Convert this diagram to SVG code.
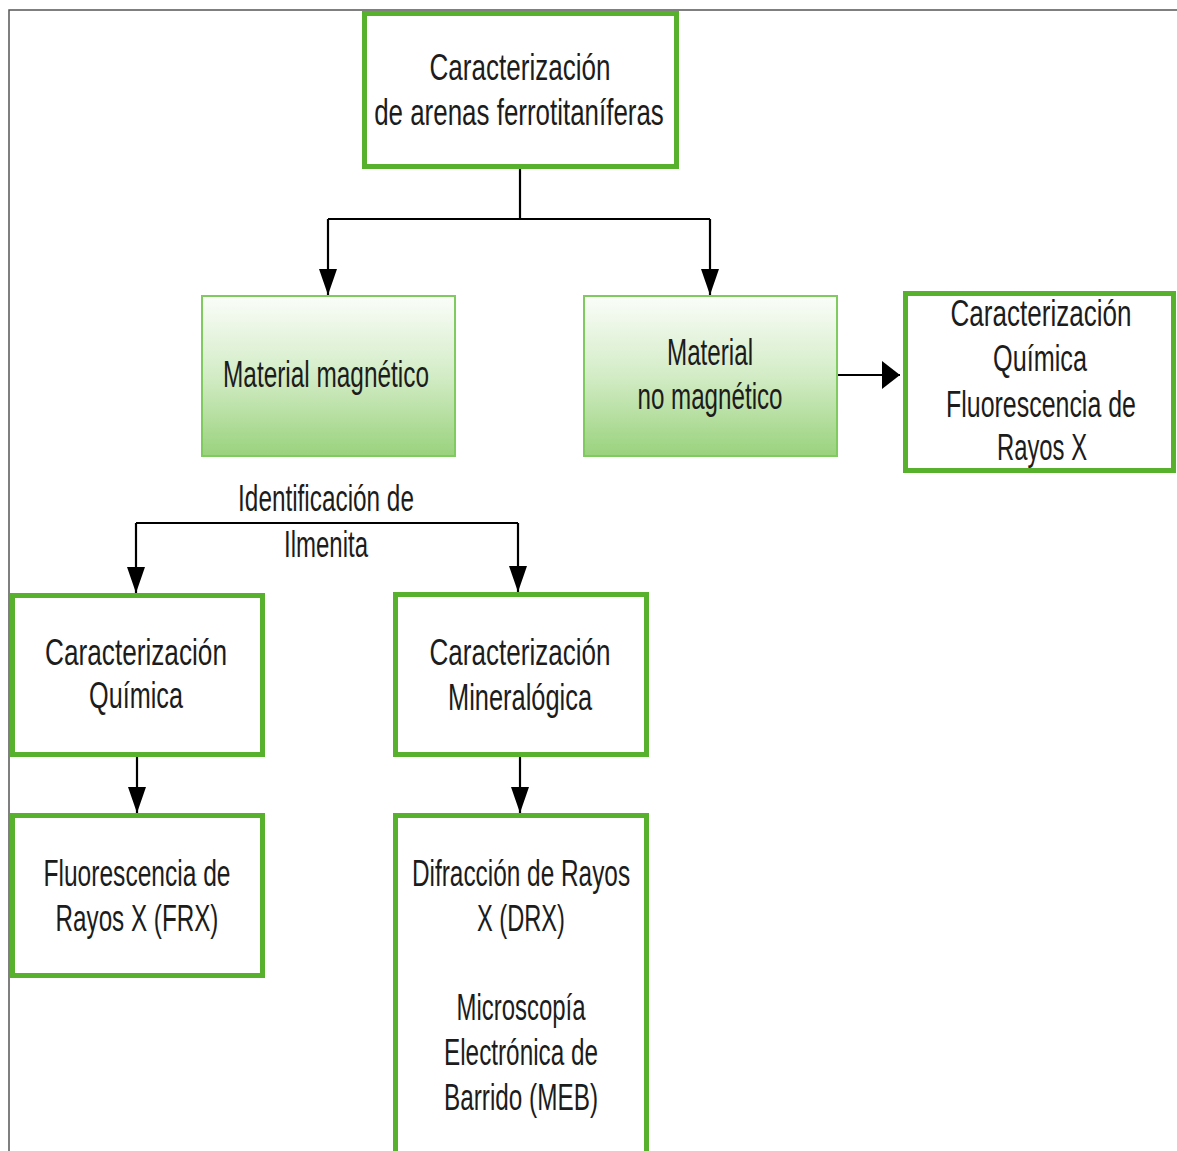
<svg xmlns="http://www.w3.org/2000/svg" width="1177" height="1151" viewBox="0 0 1177 1151">
  <style>
    .frame { fill: none; stroke: #555; stroke-width: 1.5; }
    .box { fill: #fff; stroke: #58b12c; stroke-width: 5; }
    .soft { fill: url(#greenFade); stroke: #7fcb5f; stroke-width: 2; }
    .lbl { font-family: "Liberation Sans", Arial, sans-serif; font-size: 37px; fill: #1c1c1c; text-anchor: middle; }
    .wire { fill: none; stroke: #000; stroke-width: 2.2; }
  </style>
  <defs>
    <linearGradient id="greenFade" x1="0" y1="0" x2="0" y2="1">
      <stop offset="0" stop-color="#fbfdf9"/>
      <stop offset="0.5" stop-color="#d3ecc6"/>
      <stop offset="1" stop-color="#99d27c"/>
    </linearGradient>
    <marker id="head" viewBox="0 0 26 18" refX="26" refY="9" markerWidth="26" markerHeight="18" markerUnits="userSpaceOnUse" orient="auto">
      <path d="M0,0 L26,9 L0,18 Z" fill="#000"/>
    </marker>
    <marker id="headWide" viewBox="0 0 18 28" refX="18" refY="14" markerWidth="18" markerHeight="28" markerUnits="userSpaceOnUse" orient="auto">
      <path d="M0,0 L18,14 L0,28 Z" fill="#000"/>
    </marker>
  </defs>

  <rect width="1177" height="1151" fill="#fff"/>
  <path class="frame" d="M9,1151 V10 H1177"/>

  <g id="connectors">
    <path class="wire" d="M520,169 V219"/>
    <path class="wire" d="M328,219 H710"/>
    <path class="wire" d="M328,219 V295" marker-end="url(#head)"/>
    <path class="wire" d="M710,219 V295" marker-end="url(#head)"/>
    <path class="wire" d="M837,375 H900" marker-end="url(#headWide)"/>
    <path class="wire" d="M136,523 H518"/>
    <path class="wire" d="M136,523 V593" marker-end="url(#head)"/>
    <path class="wire" d="M518,523 V592" marker-end="url(#head)"/>
    <path class="wire" d="M137,757 V813" marker-end="url(#head)"/>
    <path class="wire" d="M520,757 V813" marker-end="url(#head)"/>
  </g>

  <!-- condensed lettering: each line is narrowed horizontally around its centre -->
  <g id="label-ilmenita">
    <text class="lbl" transform="translate(326 511) scale(0.658 1)">Identificación de</text>
    <text class="lbl" transform="translate(326 557) scale(0.649 1)">Ilmenita</text>
  </g>

  <g id="node-arenas">
    <rect class="box" x="364.5" y="13.5" width="312" height="153"/>
    <text class="lbl" transform="translate(520 80) scale(0.704 1)">Caracterización</text>
    <text class="lbl" transform="translate(519 125) scale(0.701 1)">de arenas ferrotitaníferas</text>
  </g>

  <g id="node-magnetico">
    <rect class="soft" x="202" y="296" width="253" height="160"/>
    <text class="lbl" transform="translate(326 387) scale(0.659 1)">Material magnético</text>
  </g>

  <g id="node-no-magnetico">
    <rect class="soft" x="584" y="296" width="253" height="160"/>
    <text class="lbl" transform="translate(710 365) scale(0.654 1)">Material</text>
    <text class="lbl" transform="translate(710 409) scale(0.653 1)">no magnético</text>
  </g>

  <g id="node-quimica-frx">
    <rect class="box" x="905.5" y="293.5" width="268" height="177"/>
    <text class="lbl" transform="translate(1041 326) scale(0.704 1)">Caracterización</text>
    <text class="lbl" transform="translate(1040 371) scale(0.682 1)">Química</text>
    <text class="lbl" transform="translate(1041 417) scale(0.674 1)">Fluorescencia de</text>
    <text class="lbl" transform="translate(1042 460) scale(0.644 1)">Rayos X</text>
  </g>

  <g id="node-quimica">
    <rect class="box" x="12.5" y="595.5" width="250" height="159"/>
    <text class="lbl" transform="translate(136 665) scale(0.708 1)">Caracterización</text>
    <text class="lbl" transform="translate(136 708) scale(0.682 1)">Química</text>
  </g>

  <g id="node-frx">
    <rect class="box" x="12.5" y="815.5" width="250" height="160"/>
    <text class="lbl" transform="translate(137 886) scale(0.664 1)">Fluorescencia de</text>
    <text class="lbl" transform="translate(137 931) scale(0.655 1)">Rayos X (FRX)</text>
  </g>

  <g id="node-mineralogica">
    <rect class="box" x="395.5" y="594.5" width="251" height="160"/>
    <text class="lbl" transform="translate(520 665) scale(0.704 1)">Caracterización</text>
    <text class="lbl" transform="translate(520 710) scale(0.687 1)">Mineralógica</text>
  </g>

  <g id="node-drx-meb">
    <rect class="box" x="395.5" y="815.5" width="251" height="345"/>
    <text class="lbl" transform="translate(521 886) scale(0.659 1)">Difracción de Rayos</text>
    <text class="lbl" transform="translate(521 931) scale(0.639 1)">X (DRX)</text>
    <text class="lbl" transform="translate(521 1020) scale(0.647 1)">Microscopía</text>
    <text class="lbl" transform="translate(521 1065) scale(0.657 1)">Electrónica de</text>
    <text class="lbl" transform="translate(521 1110) scale(0.657 1)">Barrido (MEB)</text>
  </g>
</svg>
